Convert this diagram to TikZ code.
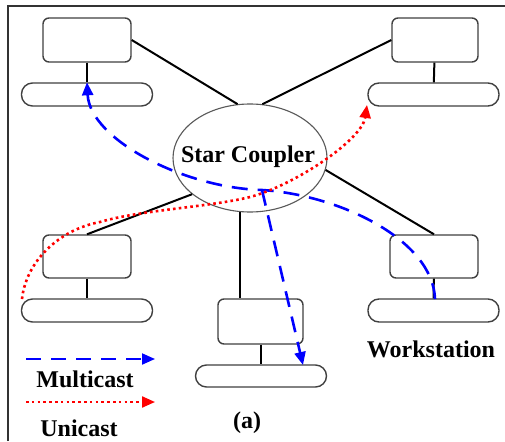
\documentclass[tikz,border=0pt]{standalone}
\usepackage{fontspec}
\setmainfont{Liberation Serif}
\usetikzlibrary{arrows.meta,shapes.geometric}
\begin{document}
\begin{tikzpicture}[x=1pt,y=-1pt,
  monitor/.style={draw=black!75, line width=1.4pt, rounded corners=6pt, fill=white,
    minimum height=44pt, inner sep=0pt},
  keyboard/.style={draw=black!75, line width=1.4pt, rounded corners=11pt, fill=white,
    minimum width=131pt, minimum height=23pt, inner sep=0pt},
  coupler/.style={ellipse, draw=black!65, line width=1.1pt, fill=white,
    minimum width=154pt, minimum height=108pt, inner sep=0pt},
  link/.style={draw=black, line width=2pt},
  label/.style={font=\fontsize{24}{24}\selectfont\bfseries, inner sep=0pt, anchor=base},
  multicast/.style={draw=blue, line width=2.6pt, dash pattern=on 16pt off 10pt,
    -{Triangle[length=13pt,width=11pt]}},
  unicast/.style={draw=red, line width=2.6pt, dash pattern=on 2.6pt off 3.2pt,
    -{Triangle[length=13pt,width=11pt]}},
  frame/.style={draw=black!80, line width=1.8pt}
]
% canvas
\fill[white] (0,0) rectangle (505,441);
\useasboundingbox (0,0) rectangle (505,441);
\draw[frame] (8,441) -- (8,6) -- (505,6);

% star coupler
\node[coupler] (sc) at (250,158) {};
\node[label] (sctext) at (248,162) {Star Coupler};

% workstations: monitor + keyboard
\node[monitor, minimum width=88pt] (monTL) at (87,40) {};
\node[keyboard] (kbTL) at (87,94.5) {};
\node[monitor, minimum width=86pt] (monTR) at (435,40) {};
\node[keyboard] (kbTR) at (433.5,94.5) {};
\node[monitor, minimum width=88pt, minimum height=43pt] (monML) at (87,256.5) {};
\node[keyboard] (kbML) at (87,310.5) {};
\node[monitor, minimum width=85pt, minimum height=45pt] (monB) at (260.5,321.5) {};
\node[keyboard, minimum height=22pt] (kbB) at (261,376) {};
\node[monitor, minimum width=88pt, minimum height=43pt] (monBR) at (434,256.5) {};
\node[keyboard] (kbBR) at (433.5,310.5) {};

% monitor stands
\draw[link] (monTL) -- (kbTL);
\draw[link] (monTR) -- (kbTR);
\draw[link] (monML) -- (kbML);
\draw[link] (monB.south) -- (monB.south |- kbB.north);
\draw[link] (monBR) -- (kbBR);

% links to the star coupler
\draw[link] (monTL.east) -- (sc.103);
\draw[link] (monTR.west) -- (sc.77);
\draw[link] (sc.-9) -- (monBR.north);
\draw[link] (sc.-148) -- (monML.north);
\draw[link] (sc.-101) -- (sc.-101 |- monB.north);

% labels
\node[label] (ws) at (431,357) {Workstation};
\node[label] (capt) at (247,428) {(a)};

% multicast paths
\coordinate (mSrc) at (435,299);
\coordinate (mMid) at (262,190);
\coordinate (mTip2) at (303,365);
\draw[multicast] (mSrc) .. controls (433,240) and (340,195) .. (mMid)
  .. controls (185,188) and (90,140) .. (kbTL.north);
\draw[multicast] (mMid) -- (mTip2);

% unicast path
\coordinate (uSrc) at (22,299);
\coordinate (uA) at (100,222);
\coordinate (uB) at (250,197);
\coordinate (uTip) at (367,105);
\draw[unicast] (uSrc) .. controls (26,262) and (58,230) .. (uA)
  .. controls (140,210) and (210,207) .. (uB)
  .. controls (295,185) and (362,140) .. (uTip);

% legend
\coordinate (lm1) at (26,359);
\coordinate (lm2) at (155,359);
\coordinate (lu1) at (26,402);
\coordinate (lu2) at (155,402);
\draw[multicast, line width=2pt, dash pattern=on 15pt off 10pt] (lm1) -- (lm2);
\draw[unicast, line width=2.2pt] (lu1) -- (lu2);
\node[label] (lgm) at (85,387) {Multicast};
\node[label] (lgu) at (79,436) {Unicast};
\end{tikzpicture}
\end{document}
